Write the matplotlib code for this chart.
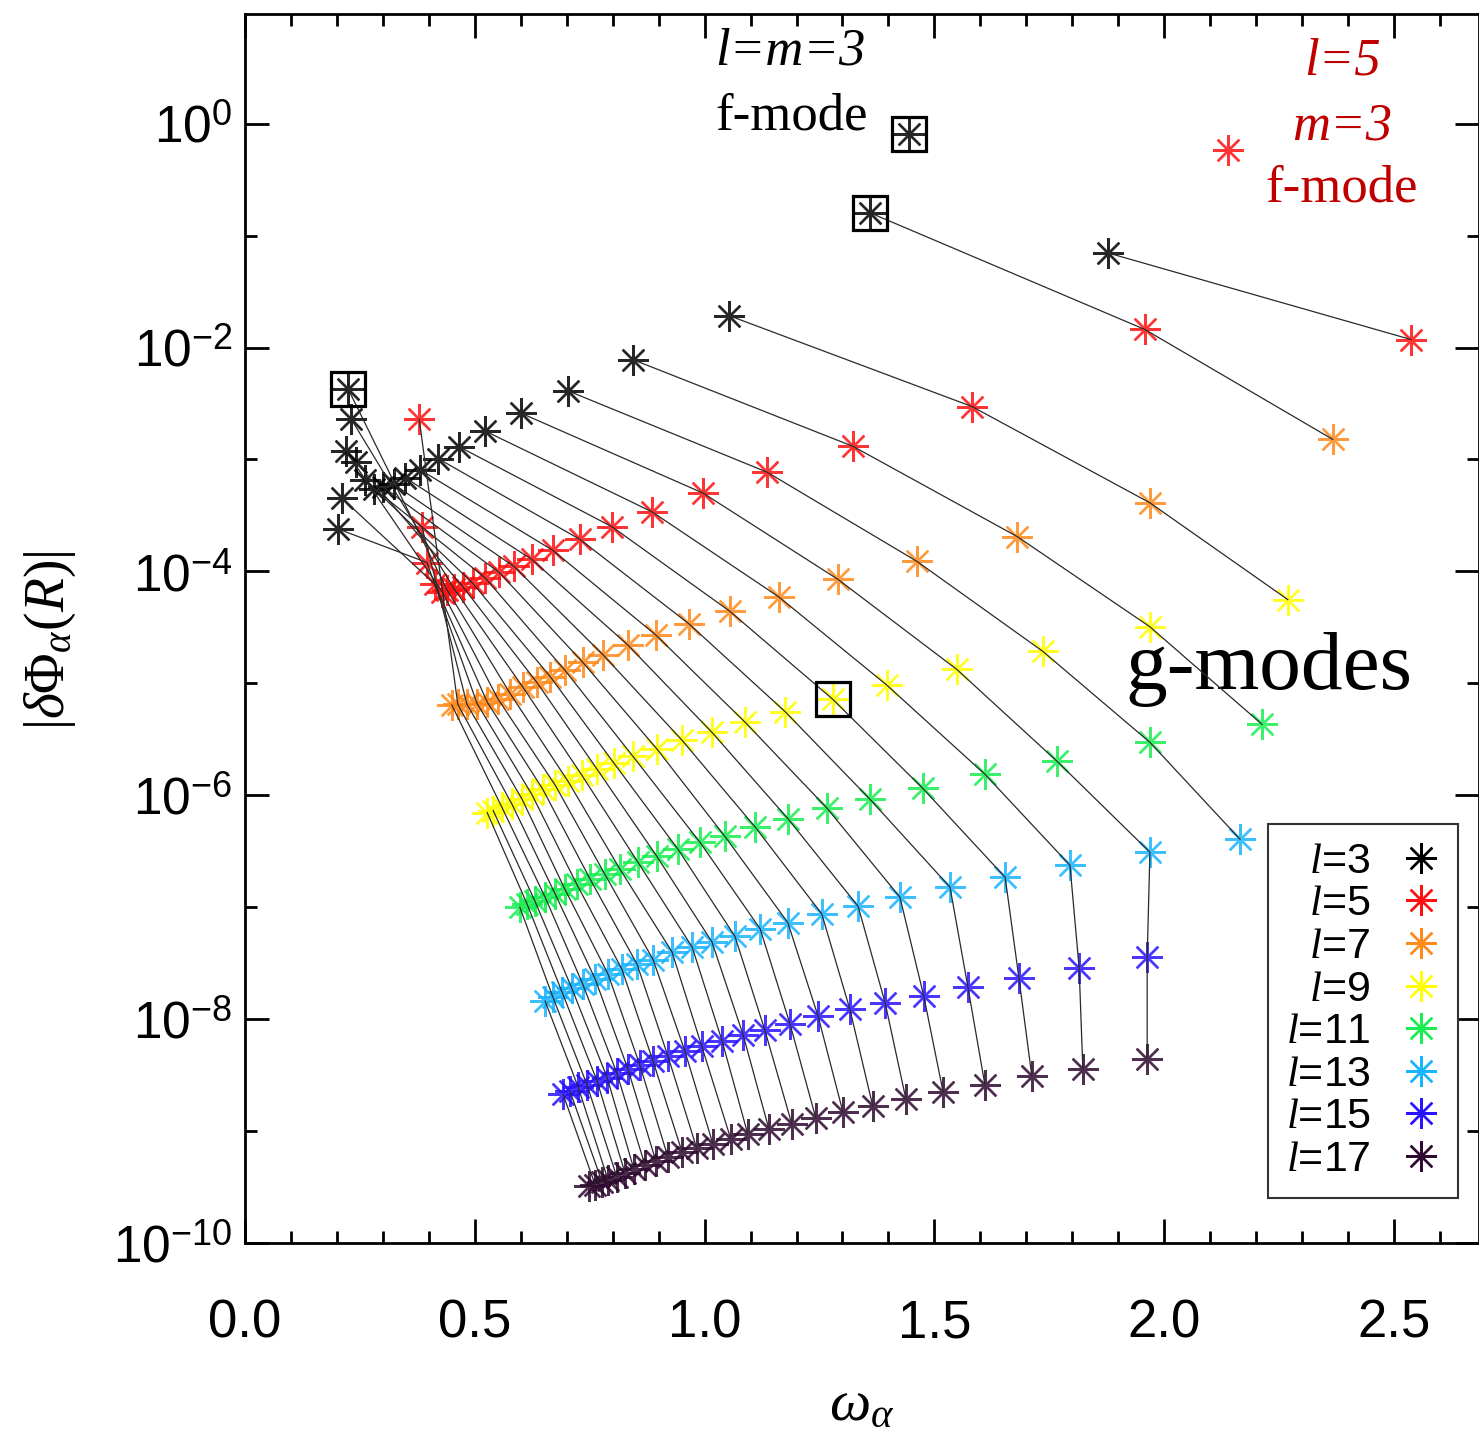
import matplotlib
matplotlib.use("Agg")
import matplotlib.pyplot as plt
from matplotlib.ticker import FixedLocator, MultipleLocator, NullFormatter

plt.rcParams['font.family'] = ['Liberation Sans', 'DejaVu Sans']
plt.rcParams['mathtext.fontset'] = 'custom'
plt.rcParams['mathtext.rm'] = 'Liberation Serif'
plt.rcParams['mathtext.it'] = 'Liberation Serif:italic'
plt.rcParams['mathtext.sf'] = 'Liberation Sans'

# ---- data: mode frequency omega and |dPhi(R)| per l, radial order starts at n_first
l_values = [3, 5, 7, 9, 11, 13, 15, 17]
n_first = [1, 1, 2, 3, 4, 5, 6, 6]
colors = ['#000000', '#ff1010', '#ff8a1a', '#ffff00', '#18ee50', '#18b4ff', '#2a14ff', '#300a30']

omega_l3 = [1.878, 1.360, 1.053, 0.844, 0.703, 0.600, 0.522, 0.466, 0.420, 0.381, 0.348,
            0.324, 0.300, 0.281, 0.261, 0.242, 0.231, 0.224, 0.220, 0.211, 0.202]
amp_l3 = [7.0e-2, 1.6e-1, 1.93e-2, 7.8e-3, 4.1e-3, 2.6e-3, 1.8e-3, 1.3e-3, 1.02e-3, 8.1e-4, 6.9e-4,
          6.0e-4, 5.7e-4, 5.5e-4, 6.6e-4, 9.4e-4, 2.3e-3, 4.3e-3, 1.18e-3, 4.5e-4, 2.4e-4]

omega_l5 = [2.537, 1.958, 1.582, 1.323, 1.136, 0.997, 0.886, 0.799, 0.729, 0.670, 0.624, 0.585,
            0.553, 0.522, 0.496, 0.474, 0.455, 0.440, 0.429, 0.413, 0.396, 0.385, 0.379]
amp_l5 = [1.18e-2, 1.45e-2, 2.97e-3, 1.31e-3, 7.7e-4, 5.0e-4, 3.4e-4, 2.5e-4, 1.93e-4, 1.54e-4, 1.28e-4, 1.11e-4,
          9.8e-5, 8.8e-5, 7.8e-5, 7.3e-5, 7.0e-5, 6.8e-5, 6.6e-5, 7.7e-5, 1.2e-4, 2.5e-4, 2.3e-3]

omega_l7 = [2.367, 1.969, 1.680, 1.462, 1.290, 1.162, 1.055, 0.966, 0.894, 0.833, 0.779, 0.735,
            0.696, 0.664, 0.635, 0.605, 0.577, 0.550, 0.527, 0.505, 0.483, 0.463, 0.450]
amp_l7 = [1.51e-3, 4.1e-4, 2.05e-4, 1.23e-4, 8.5e-5, 5.9e-5, 4.4e-5, 3.4e-5, 2.7e-5, 2.2e-5, 1.8e-5, 1.54e-5,
          1.31e-5, 1.15e-5, 1.02e-5, 9.2e-6, 8.1e-6, 7.3e-6, 6.8e-6, 6.6e-6, 6.5e-6, 6.5e-6, 6.4e-6]

omega_l9 = [2.269, 1.969, 1.736, 1.549, 1.397, 1.279, 1.175, 1.088, 1.016, 0.951, 0.896, 0.844,
            0.803, 0.766, 0.733, 0.703, 0.675, 0.648, 0.624, 0.603, 0.581, 0.559, 0.540, 0.527]
amp_l9 = [5.6e-5, 3.2e-5, 1.93e-5, 1.33e-5, 9.6e-6, 7.2e-6, 5.6e-6, 4.5e-6, 3.65e-6, 3.1e-6, 2.6e-6, 2.23e-6,
          1.93e-6, 1.71e-6, 1.51e-6, 1.33e-6, 1.23e-6, 1.13e-6, 1.02e-6, 9.2e-7, 8.3e-7, 7.8e-7, 7.3e-7, 7.0e-7]

omega_l11 = [2.213, 1.969, 1.767, 1.610, 1.475, 1.360, 1.266, 1.181, 1.110, 1.044, 0.990, 0.942,
             0.896, 0.855, 0.816, 0.783, 0.751, 0.722, 0.696, 0.675, 0.653, 0.631, 0.614, 0.598]
amp_l11 = [4.3e-6, 2.97e-6, 2.01e-6, 1.54e-6, 1.15e-6, 9.2e-7, 7.7e-7, 6.2e-7, 5.2e-7, 4.3e-7, 3.8e-7, 3.3e-7,
           2.85e-7, 2.52e-7, 2.18e-7, 1.97e-7, 1.78e-7, 1.60e-7, 1.45e-7, 1.31e-7, 1.23e-7, 1.13e-7, 1.06e-7, 1.0e-7]

omega_l13 = [2.165, 1.969, 1.795, 1.654, 1.534, 1.425, 1.334, 1.255, 1.181, 1.121, 1.066, 1.016,
             0.973, 0.929, 0.888, 0.853, 0.820, 0.790, 0.762, 0.735, 0.711, 0.690, 0.670, 0.653]
amp_l13 = [4.05e-7, 3.1e-7, 2.37e-7, 1.85e-7, 1.51e-7, 1.23e-7, 1.02e-7, 8.7e-8, 7.3e-8, 6.4e-8, 5.5e-8, 4.9e-8,
           4.4e-8, 4.0e-8, 3.4e-8, 3.1e-8, 2.8e-8, 2.52e-8, 2.28e-8, 2.05e-8, 1.89e-8, 1.74e-8, 1.57e-8, 1.45e-8]

omega_l15 = [1.963, 1.815, 1.684, 1.573, 1.477, 1.393, 1.316, 1.247, 1.186, 1.131, 1.084, 1.038,
             0.994, 0.957, 0.920, 0.888, 0.859, 0.833, 0.809, 0.788, 0.766, 0.744, 0.725, 0.707, 0.692]
amp_l15 = [3.6e-8, 2.85e-8, 2.32e-8, 1.93e-8, 1.60e-8, 1.39e-8, 1.23e-8, 1.06e-8, 9.0e-9, 8.0e-9, 7.2e-9, 6.4e-9,
           5.7e-9, 5.2e-9, 4.7e-9, 4.2e-9, 3.9e-9, 3.6e-9, 3.3e-9, 3.0e-9, 2.8e-9, 2.6e-9, 2.47e-9, 2.28e-9, 2.14e-9]

omega_l17 = [1.963, 1.823, 1.712, 1.610, 1.519, 1.438, 1.366, 1.301, 1.242, 1.190, 1.140, 1.094, 1.057,
             1.018, 0.983, 0.951, 0.920, 0.894, 0.870, 0.846, 0.827, 0.809, 0.790, 0.777, 0.762, 0.748]
amp_l17 = [4.4e-9, 3.6e-9, 3.1e-9, 2.58e-9, 2.23e-9, 1.93e-9, 1.67e-9, 1.48e-9, 1.31e-9, 1.15e-9, 1.04e-9, 9.4e-10, 8.5e-10,
           7.7e-10, 7.0e-10, 6.5e-10, 5.9e-10, 5.4e-10, 5.0e-10, 4.6e-10, 4.2e-10, 3.9e-10, 3.65e-10, 3.5e-10, 3.3e-10, 3.2e-10]

# f-modes
fmode_l3 = (1.445, 0.81)
fmode_l5 = (2.139, 0.586)

omegas = [omega_l3, omega_l5, omega_l7, omega_l9, omega_l11, omega_l13, omega_l15, omega_l17]
amps = [amp_l3, amp_l5, amp_l7, amp_l9, amp_l11, amp_l13, amp_l15, amp_l17]

# ---- figure
fig = plt.figure(figsize=(14.79, 14.40), dpi=100)
ax = fig.add_axes([245 / 1479, 197 / 1440, 1234 / 1479, 1229 / 1440])

star = (8, 2, 0)
ms = 22
mew = 1.7

# lines joining equal radial order n across l
n_max = max(nf + len(o) - 1 for nf, o in zip(n_first, omegas))
for n in range(1, n_max + 1):
    xs, ys = [], []
    for nf, om, am in zip(n_first, omegas, amps):
        i = n - nf
        if 0 <= i < len(om):
            xs.append(om[i])
            ys.append(am[i])
    if len(xs) > 1:
        ax.plot(xs, ys, color='#2a2a2a', lw=0.9, zorder=4)

for l, om, am, c in zip(l_values, omegas, amps, colors):
    ax.plot(om, am, ls='none', marker=star, ms=ms, mew=mew, color=c, alpha=0.85,
            zorder=3, label='\u2007' * (l < 10) + r'$\mathit{l}$=%d' % l)

ax.plot(*fmode_l3, ls='none', marker=star, ms=ms, mew=mew, color=colors[0], alpha=0.85, zorder=3)
ax.plot(*fmode_l5, ls='none', marker=star, ms=ms, mew=mew, color=colors[1], alpha=0.85, zorder=3)

# boxed (resonant) modes
box_x = [fmode_l3[0], omega_l3[1], omega_l3[17], omega_l9[5]]
box_y = [fmode_l3[1], amp_l3[1], amp_l3[17], amp_l9[5]]
ax.plot(box_x, box_y, ls='none', marker='s', ms=24, mfc='none', mec='black', mew=2.3, zorder=5)

ax.set_yscale('log')
ax.set_xlim(0, 2.685)
ax.set_ylim(1e-10, 10 ** 0.98)

ax.xaxis.set_major_locator(MultipleLocator(0.5))
ax.xaxis.set_minor_locator(MultipleLocator(0.1))
ax.set_xticks([0.0, 0.5, 1.0, 1.5, 2.0, 2.5])
ax.set_xticklabels(['0.0', '0.5', '1.0', '1.5', '2.0', '2.5'], fontsize=38)

ymaj = [1e0, 1e-2, 1e-4, 1e-6, 1e-8, 1e-10]
ax.yaxis.set_major_locator(FixedLocator(ymaj))
ax.yaxis.set_minor_locator(FixedLocator([1e-1, 1e-3, 1e-5, 1e-7, 1e-9]))
ax.yaxis.set_minor_formatter(NullFormatter())
ax.set_yticklabels([r'$\mathsf{10}^{\mathsf{%d}}$' % e for e in [0, -2, -4, -6, -8, -10]], fontsize=37)

ax.tick_params(which='both', direction='in', top=True, right=True, width=2)
ax.tick_params(which='major', length=17)
ax.tick_params(which='minor', length=8.5)
ax.tick_params(axis='x', which='major', pad=40)
ax.tick_params(axis='y', which='major', pad=9)
for s in ax.spines.values():
    s.set_linewidth(2)

ax.set_xlabel(r'$\omega_\alpha$', fontsize=42)
ax.xaxis.set_label_coords(0.5, -0.132)
ax.xaxis.label.set_va('center')
ax.set_ylabel(r'$|\delta\Phi_\alpha(R)|$', fontsize=40)
ax.yaxis.set_label_coords(-0.158, 0.49)
ax.yaxis.label.set_va('center')

# annotations
serif = 'Liberation Serif'
ax.text(1.023, 4.4, 'l=m=3', fontsize=38, family=serif, style='italic', va='center', ha='left')
ax.text(1.023, 1.155, 'f-mode', fontsize=38, family=serif, va='center', ha='left')
dred = '#c00000'
ax.text(2.387, 3.6, 'l=5', fontsize=38, family=serif, style='italic', color=dred, va='center', ha='center')
ax.text(2.387, 0.95, 'm=3', fontsize=38, family=serif, style='italic', color=dred, va='center', ha='center')
ax.text(2.387, 0.265, 'f-mode', fontsize=38, family=serif, color=dred, va='center', ha='center')
ax.text(1.915, 1.33e-5, 'g-modes', fontsize=60, family=serif, va='center', ha='left')

leg = ax.legend(loc='lower right', bbox_to_anchor=(0.983, 0.0366), markerfirst=False,
                fontsize=31, frameon=True, fancybox=False, framealpha=1, edgecolor='#333333',
                handlelength=0.9, handletextpad=0.7, labelspacing=0.06, borderpad=0.42, borderaxespad=0)
leg.get_frame().set_linewidth(1.5)
for h in leg.legend_handles:
    h.set_alpha(1.0)

fig.savefig('out.png', dpi=100)
